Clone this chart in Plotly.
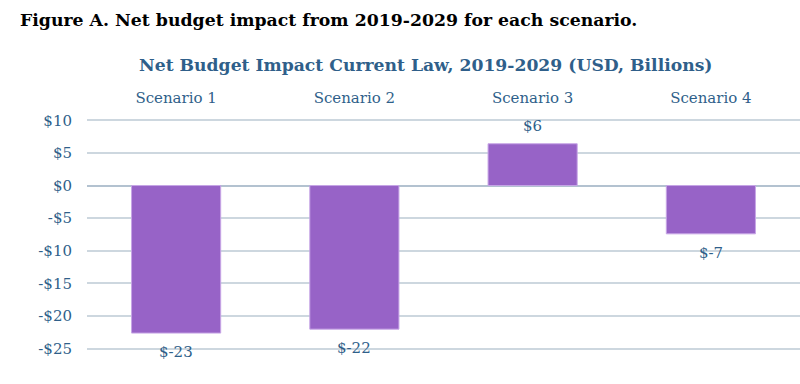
import plotly.graph_objects as go

categories = ["Scenario 1", "Scenario 2", "Scenario 3", "Scenario 4"]
values = [-22.6, -22.0, 6.4, -7.4]
tick_vals = [10, 5, 0, -5, -10, -15, -20, -25]
tick_text = ["$10", "$5", "$0", "-$5", "-$10", "-$15", "-$20", "-$25"]

blue = "#2f5f8a"
serif = "DejaVu Serif"

fig = go.Figure(go.Bar(
    x=categories, y=values,
    width=0.5,
    marker=dict(color="#9763c7", line=dict(color="#c7a6e6", width=1)),
    cliponaxis=False,
))

value_labels = [
    dict(x=c, y=v, text=f"${round(v):d}", showarrow=False, xref="x", yref="y",
         yanchor="middle", yshift=(18 if v >= 0 else -19),
         font=dict(family=serif, size=15, color=blue))
    for c, v in zip(categories, values)
]

fig.update_layout(
    width=800, height=384,
    margin=dict(l=87, r=0, t=117, b=32),
    plot_bgcolor="white", paper_bgcolor="white",
    showlegend=False,
    xaxis=dict(side="top", showgrid=False, showline=False, ticks="", automargin=False,
               ticklabelstandoff=10,
               tickfont=dict(family=serif, size=15, color=blue)),
    yaxis=dict(range=[-25.5, 10.5], tickvals=tick_vals, ticktext=tick_text, automargin=False,
               gridcolor="#cdd7df", gridwidth=2, zeroline=True,
               zerolinecolor="#b3c2d0", zerolinewidth=2,
               tickfont=dict(family=serif, size=15, color=blue), ticklabelstandoff=14),
    annotations=value_labels + [
        dict(text="<b>Figure A. Net budget impact from 2019-2029 for each scenario.</b>",
             xref="paper", yref="paper", x=-69/713, y=1, xanchor="left", yanchor="top",
             yshift=109, showarrow=False,
             font=dict(family=serif, size=17.3, color="black")),
        dict(text="<b>Net Budget Impact Current Law, 2019-2029 (USD, Billions)</b>",
             xref="paper", yref="paper", x=(425-87)/713, y=1, xanchor="center", yanchor="top",
             yshift=64, showarrow=False,
             font=dict(family=serif, size=17.2, color=blue)),
    ],
)

fig.write_html("out.html", config={"displayModeBar": False},
               post_script="document.body.style.margin='0';")
